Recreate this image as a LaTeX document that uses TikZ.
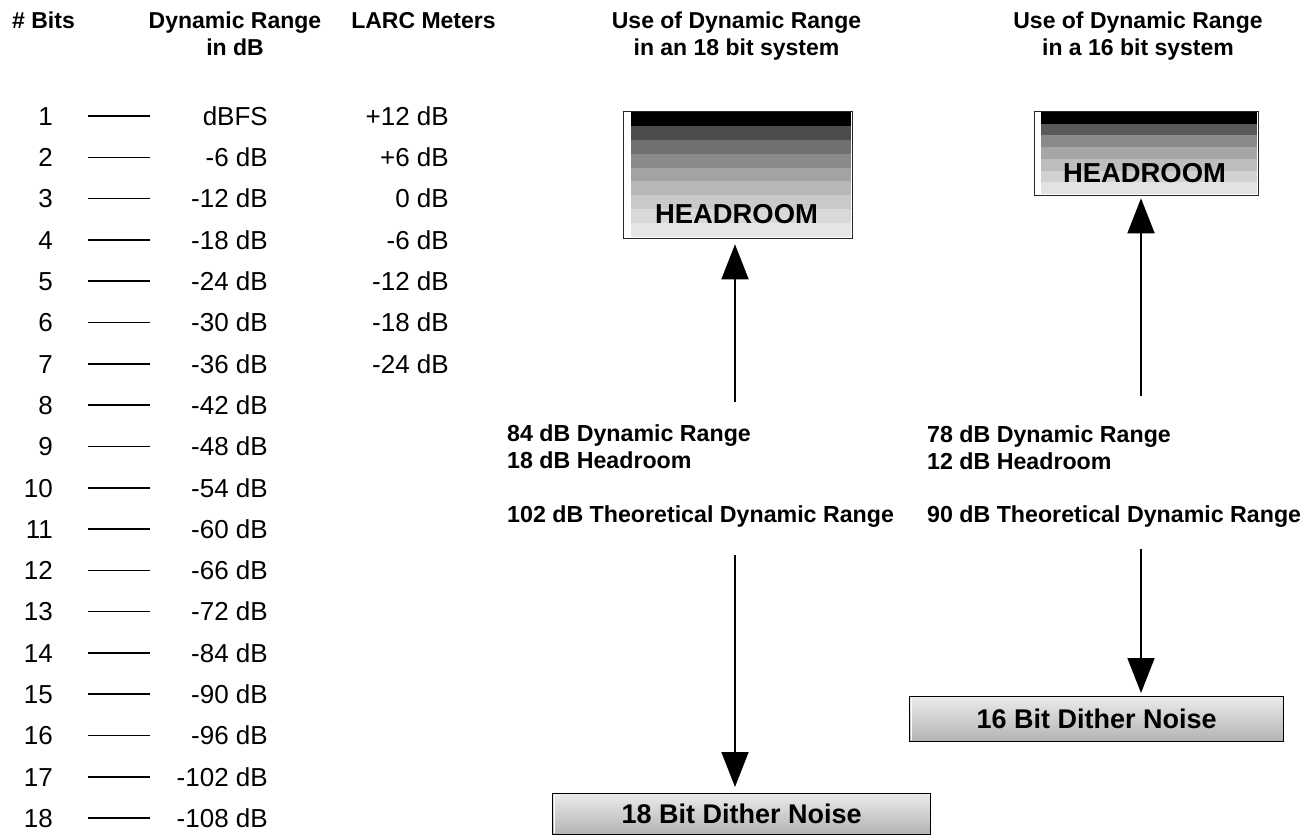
\documentclass[tikz,border=0pt]{standalone}
\usepackage{fontspec}
\setmainfont{Liberation Sans}
\usetikzlibrary{arrows.meta}
\begin{document}
\begin{tikzpicture}[x=1pt,y=-1pt,
  rowtxt/.style={anchor=base east,inner sep=0pt,font=\fontsize{26}{30}\selectfont},
  hdr/.style={anchor=base,inner sep=0pt,font=\bfseries\fontsize{23}{27}\selectfont},
  lbl/.style={anchor=base west,inner sep=0pt,font=\bfseries\fontsize{23.2}{27}\selectfont},
  tickline/.style={line width=1.6pt},
  hrframe/.style={draw=black!85,line width=1.3pt,inner sep=0pt,anchor=north west},
  hrtext/.style={anchor=base,inner sep=0pt,font=\bfseries\fontsize{27.4}{32}\selectfont},
  dither/.style={draw=black,line width=1.3pt,inner sep=0pt,anchor=north west,top color=black!8,bottom color=black!30,font=\bfseries\fontsize{27}{32}\selectfont},
  hilite/.style={white,line width=1.5pt},
  arr/.style={line width=1.6pt,-{Triangle[length=35pt,width=27pt]}}
]
\fill[white] (0,0) rectangle (1312,835);
\useasboundingbox (0,0) rectangle (1312,835);

% headers
\node[hdr,anchor=base west] (hBits) at (12,28) {\# Bits};
\node[hdr] (hDR1) at (235,28) {Dynamic Range};
\node[hdr] (hDR2) at (235,55) {in dB};
\node[hdr] (hLARC) at (423.5,28) {LARC Meters};
\node[hdr] (h18a) at (736.5,28) {Use of Dynamic Range};
\node[hdr] (h18b) at (736.5,55) {in an 18 bit system};
\node[hdr] (h16a) at (1138,28) {Use of Dynamic Range};
\node[hdr] (h16b) at (1138,55) {in a 16 bit system};

% table rows
\foreach \dr [count=\i] in {dBFS,-6 dB,-12 dB,-18 dB,-24 dB,-30 dB,-36 dB,-42 dB,-48 dB,-54 dB,-60 dB,-66 dB,-72 dB,-84 dB,-90 dB,-96 dB,-102 dB,-108 dB}{
  \pgfmathsetmacro{\yy}{116+(\i-1)*41.3}
  \node[rowtxt] (bit\i) at (53,\yy+9.3) {\i};
  \coordinate (ta\i) at (88,\yy);
  \coordinate (tb\i) at (150,\yy);
  \draw[tickline] (ta\i) -- (tb\i);
  \node[rowtxt] (dr\i) at (268,\yy+9.3) {\dr};
}
\foreach \lv [count=\i] in {+12 dB,+6 dB,0 dB,-6 dB,-12 dB,-18 dB,-24 dB}{
  \pgfmathsetmacro{\yy}{116+(\i-1)*41.3}
  \node[rowtxt] (larc\i) at (449,\yy+9.3) {\lv};
}

% headroom box 18 bit
\foreach \c [count=\k] in {black,black!70,black!56,black!46,black!36,black!28,black!21,black!15,black!10}
  \fill[\c] (631,{112+(\k-1)*13.89}) rectangle (851,{112+\k*13.89});
\node[hrframe,minimum width=229pt,minimum height=127pt] (hr1) at (623,111) {};
\node[hrtext] (hrt1) at (736.5,223) {HEADROOM};

% headroom box 16 bit
\foreach \c [count=\k] in {black,black!65,black!46,black!35,black!26,black!18,black!11}
  \fill[\c] (1041,{112+(\k-1)*11.71}) rectangle (1257,{112+\k*11.71});
\node[hrframe,minimum width=224pt,minimum height=84pt] (hr2) at (1034,111) {};
\node[hrtext] (hrt2) at (1144.5,182) {HEADROOM};

% labels
\node[lbl] (l18a) at (507,441) {84 dB Dynamic Range};
\node[lbl] (l18b) at (507,468) {18 dB Headroom};
\node[lbl] (l18c) at (507,522) {102 dB Theoretical Dynamic Range};
\node[lbl] (l16a) at (927,442) {78 dB Dynamic Range};
\node[lbl] (l16b) at (927,469) {12 dB Headroom};
\node[lbl] (l16c) at (927,522) {90 dB Theoretical Dynamic Range};

% dither boxes
\node[dither,minimum width=378pt,minimum height=41pt] (dn18) at (552,793) {18 Bit Dither Noise};
\node[dither,minimum width=374pt,minimum height=45pt] (dn16) at (909,696) {16 Bit Dither Noise};
\draw[hilite] ([xshift=2.5pt,yshift=-2pt]dn18.north west) -- ([xshift=2.5pt,yshift=2pt]dn18.south west);
\draw[hilite] ([xshift=2.5pt,yshift=-2pt]dn16.north west) -- ([xshift=2.5pt,yshift=2pt]dn16.south west);

% arrows
\coordinate (u18) at (735,402);
\coordinate (d18) at (735,555);
\coordinate (u16) at (1141,396);
\coordinate (d16) at (1141,549);
\draw[arr,shorten >=5pt] (u18) -- (u18 |- hr1.south);
\draw[arr,shorten >=6pt] (d18) -- (d18 |- dn18.north);
\draw[arr,shorten >=2pt] (u16) -- (u16 |- hr2.south);
\draw[arr,shorten >=3pt] (d16) -- (d16 |- dn16.north);
\end{tikzpicture}
\end{document}
